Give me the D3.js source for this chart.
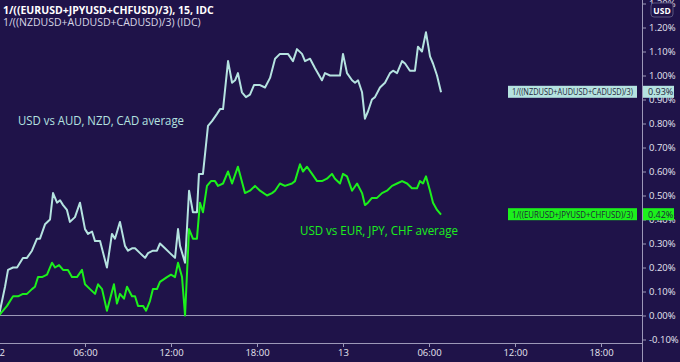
<!doctype html>
<html>
<head>
<meta charset="utf-8">
<title>USD averages</title>
<style>
  body { margin: 0; background: #1f1349; }
  svg { display: block; font-family: "Open Sans", "Noto Sans", sans-serif; }
</style>
</head>
<body>
<script src="https://d3js.org/d3.v7.min.js"></script>
<script>
// hours since 12th 00:00, % change
var commHours = [0, 0.42, 0.63, 0.98, 1.26, 1.67, 1.95, 2.30, 2.65, 2.86, 3.21, 3.56, 3.77, 4.05, 4.26, 4.47, 4.74, 4.95, 5.30, 5.65,
  6.00, 6.21, 6.49, 6.70, 7.05, 7.53, 7.88, 8.09, 8.44, 8.79, 9.00, 9.28, 9.49, 9.84, 10.19, 10.40, 10.74, 11.02, 11.23, 11.58,
  11.93, 12.28, 12.49, 12.63, 12.98, 13.26, 13.53, 13.81, 13.95, 14.23, 14.58, 14.86, 15.21, 15.42, 15.63, 15.98, 16.26, 16.47, 16.67, 16.95,
  17.23, 17.51, 17.79, 18.21, 18.56, 18.91, 19.26, 19.60, 19.95, 20.16, 20.51, 20.79, 21.14, 21.35, 21.70, 22.05, 22.53, 22.74, 23.09, 23.44,
  23.79, 24.00, 24.28, 24.63, 24.84, 25.05, 25.33, 25.53, 25.74, 26.02, 26.23, 26.58, 26.93, 27.28, 27.49, 27.77, 28.12, 28.33, 28.67, 29.02,
  29.23, 29.51, 29.79, 30.07, 30.28, 30.56, 30.84];
var commPct = [0.00, 0.12, 0.19, 0.20, 0.20, 0.24, 0.24, 0.27, 0.32, 0.32, 0.38, 0.40, 0.51, 0.47, 0.48, 0.46, 0.44, 0.39, 0.41, 0.47,
  0.36, 0.34, 0.35, 0.31, 0.31, 0.20, 0.34, 0.32, 0.39, 0.29, 0.27, 0.28, 0.28, 0.26, 0.24, 0.26, 0.27, 0.27, 0.30, 0.28,
  0.26, 0.24, 0.36, 0.29, 0.22, 0.52, 0.43, 0.43, 0.59, 0.59, 0.79, 0.81, 0.84, 0.86, 0.86, 1.06, 0.97, 0.98, 1.01, 0.93,
  0.91, 0.92, 0.96, 0.96, 0.95, 0.99, 1.07, 1.09, 1.09, 1.09, 1.06, 1.11, 1.09, 1.06, 1.07, 1.03, 0.98, 1.01, 1.00, 1.00,
  1.00, 1.09, 1.01, 0.98, 0.97, 0.98, 0.93, 0.82, 0.85, 0.90, 0.91, 0.95, 0.97, 1.01, 1.02, 1.01, 1.06, 1.05, 1.02, 1.02,
  1.12, 1.10, 1.18, 1.08, 1.05, 1.00, 0.93];

var havenHours = [0, 0.56, 0.98, 1.33, 1.67, 1.95, 2.30, 2.51, 2.72, 3.00, 3.35, 3.70, 3.91, 4.19, 4.47, 4.81, 5.09, 5.44, 5.79, 6.00,
  6.35, 6.70, 6.91, 7.19, 7.53, 8.02, 8.23, 8.44, 8.72, 8.93, 9.28, 9.49, 9.70, 10.05, 10.26, 10.53, 10.74, 11.02, 11.23, 11.72,
  12.00, 12.28, 12.49, 12.77, 12.98, 13.26, 13.53, 13.81, 14.02, 14.23, 14.51, 14.79, 15.07, 15.28, 15.63, 15.98, 16.26, 16.67, 17.16, 17.51,
  17.86, 18.21, 18.70, 19.05, 19.26, 19.60, 19.95, 20.44, 20.65, 21.00, 21.21, 21.49, 21.84, 22.19, 22.53, 22.88, 23.23, 23.44, 23.79, 24.00,
  24.28, 24.63, 24.98, 25.33, 25.53, 25.74, 26.02, 26.37, 26.72, 27.07, 27.42, 27.77, 28.12, 28.47, 28.81, 29.16, 29.37, 29.58, 29.79, 30.07,
  30.28, 30.56, 30.84];
var havenPct = [0.00, 0.04, 0.08, 0.08, 0.09, 0.09, 0.11, 0.12, 0.16, 0.16, 0.17, 0.22, 0.20, 0.21, 0.19, 0.19, 0.16, 0.16, 0.19, 0.13,
  0.11, 0.09, 0.13, 0.11, 0.02, 0.13, 0.05, 0.09, 0.07, 0.12, 0.08, 0.08, 0.04, 0.04, 0.02, 0.06, 0.11, 0.11, 0.14, 0.16,
  0.17, 0.16, 0.22, 0.16, 0.00, 0.36, 0.32, 0.32, 0.47, 0.43, 0.54, 0.56, 0.56, 0.54, 0.55, 0.60, 0.55, 0.62, 0.51, 0.52,
  0.54, 0.52, 0.50, 0.51, 0.52, 0.55, 0.54, 0.55, 0.56, 0.63, 0.60, 0.62, 0.59, 0.56, 0.56, 0.57, 0.59, 0.57, 0.55, 0.59,
  0.58, 0.52, 0.55, 0.51, 0.46, 0.47, 0.49, 0.49, 0.51, 0.52, 0.54, 0.55, 0.56, 0.55, 0.53, 0.53, 0.56, 0.55, 0.58, 0.52,
  0.47, 0.44, 0.42];

var xTickHours = [0, 6, 12, 18, 24, 30, 36, 42];
var xTickLabels = ["12", "06:00", "12:00", "18:00", "13", "06:00", "12:00", "18:00"];
var yTicks = [-0.1, 0, 0.1, 0.2, 0.3, 0.4, 0.5, 0.6, 0.7, 0.8, 0.9, 1.0, 1.1, 1.2, 1.3];

var titleLines = ["1/((EURUSD+JPYUSD+CHFUSD)/3), 15, IDC", "1/((NZDUSD+AUDUSD+CADUSD)/3) (IDC)"];
var seriesNames = ["1/((NZDUSD+AUDUSD+CADUSD)/3)", "1/((EURUSD+JPYUSD+CHFUSD)/3)"];
var notes = ["USD vs AUD, NZD, CAD average", "USD vs EUR, JPY, CHF average"];

var w = 680, h = 362;
var plotW = 642, plotH = 343;
var bg = "#1f1349", axisCol = "#9c98b8";
var commCol = "#b5e3e0", havenCol = "#1cf01c";

var svg = d3.select("body").append("svg").attr("width", w).attr("height", h);
svg.append("rect").attr("width", w).attr("height", h).attr("fill", bg);

var x = d3.scaleLinear().domain([0, 6]).range([-1, 85]);
var y = d3.scaleLinear().domain([0, 1.2]).range([315.5, 27.5]);

svg.append("clipPath").attr("id", "plot")
  .append("rect").attr("width", plotW).attr("height", plotH);

var plot = svg.append("g").attr("clip-path", "url(#plot)");

// zero line
plot.append("line")
  .attr("x1", 0).attr("x2", plotW)
  .attr("y1", y(0)).attr("y2", y(0))
  .attr("stroke", axisCol).attr("stroke-width", 1);

var line = d3.line()
  .x(function (d) { return x(d[0]); })
  .y(function (d) { return y(d[1]); });

plot.append("path")
  .datum(d3.zip(commHours, commPct))
  .attr("d", line)
  .attr("fill", "none").attr("stroke", commCol).attr("stroke-width", 2)
  .attr("stroke-linejoin", "round");

plot.append("path")
  .datum(d3.zip(havenHours, havenPct))
  .attr("d", line)
  .attr("fill", "none").attr("stroke", havenCol).attr("stroke-width", 2)
  .attr("stroke-linejoin", "round");

// annotations
svg.append("text").attr("x", 18).attr("y", 125)
  .attr("fill", commCol).attr("font-size", 12.5)
  .attr("textLength", 166).attr("lengthAdjust", "spacingAndGlyphs").text(notes[0]);
svg.append("text").attr("x", 300).attr("y", 235)
  .attr("fill", havenCol).attr("font-size", 12.5)
  .attr("textLength", 158).attr("lengthAdjust", "spacingAndGlyphs").text(notes[1]);

// titles
svg.append("text").attr("x", 3).attr("y", 14)
  .attr("fill", "#ffffff").attr("font-size", 10.5).attr("font-weight", "bold").text(titleLines[0]);
svg.append("text").attr("x", 3).attr("y", 26)
  .attr("fill", "#d8d6e6").attr("font-size", 10.5).text(titleLines[1]);

// x axis
var xAxis = d3.axisBottom(x)
  .tickValues(xTickHours)
  .tickSize(4)
  .tickFormat(function (d, i) { return xTickLabels[i]; });
var gx = svg.append("g").attr("transform", "translate(0," + plotH + ")").call(xAxis);
gx.select(".domain").attr("d", "M0,0.5H" + plotW).attr("stroke", axisCol);
gx.selectAll(".tick line").attr("stroke", axisCol);
gx.selectAll(".tick text").attr("fill", "#e6e4f0").attr("font-size", 9.5)
  .attr("font-family", "'Open Sans', sans-serif").attr("dy", "0.6em");

// y axis
var yAxis = d3.axisRight(y)
  .tickValues(yTicks)
  .tickSize(4)
  .tickFormat(function (d) { return d.toFixed(2) + "%"; });
var gy = svg.append("g").attr("transform", "translate(" + plotW + ",0)").call(yAxis);
gy.select(".domain").attr("d", "M0.5,0V" + h).attr("stroke", axisCol);
gy.selectAll(".tick line").attr("stroke", axisCol);
gy.selectAll(".tick text").attr("fill", "#e6e4f0").attr("font-size", 9.5)
  .attr("font-family", "'Open Sans', sans-serif").attr("x", 7);

// last value labels
var lastLabels = [
  { name: seriesNames[0], v: commPct[commPct.length - 1], col: commCol },
  { name: seriesNames[1], v: havenPct[havenPct.length - 1], col: havenCol }
];
lastLabels.forEach(function (l) {
  var cy = y(l.v);
  var g = svg.append("g");
  g.append("rect").attr("x", 508).attr("y", cy - 6.5).attr("width", 129).attr("height", 12).attr("fill", l.col);
  g.append("text").attr("x", 512).attr("y", cy + 3)
    .attr("font-size", 8.5).attr("fill", "#1f1f3a")
    .attr("textLength", 121).attr("lengthAdjust", "spacingAndGlyphs").text(l.name);
  g.append("rect").attr("x", 643).attr("y", cy - 6.5).attr("width", 31).attr("height", 12).attr("fill", l.col);
  g.append("text").attr("x", 648).attr("y", cy + 3)
    .attr("font-size", 9).attr("fill", "#1f1f3a").text(l.v.toFixed(2) + "%");
});

// currency badge
svg.append("rect").attr("x", 651).attr("y", 3).attr("width", 22).attr("height", 14).attr("rx", 3)
  .attr("fill", bg).attr("stroke", "#5a5680");
svg.append("text").attr("x", 662).attr("y", 13.5).attr("text-anchor", "middle")
  .attr("font-size", 8.5).attr("font-weight", "bold").attr("fill", "#ffffff").text("USD");
</script>
</body>
</html>
